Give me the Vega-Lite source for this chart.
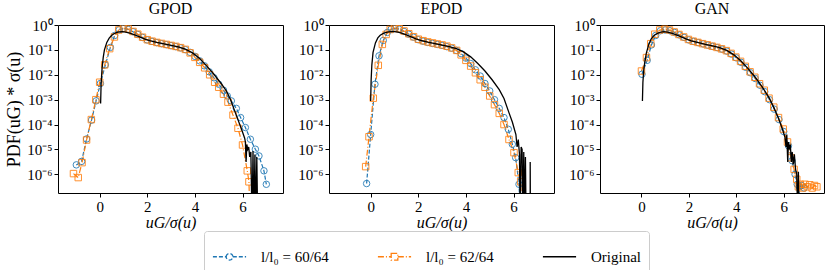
{
  "$schema": "https://vega.github.io/schema/vega-lite/v6.json",
  "background": "white",
  "padding": {"left": 5, "right": 5, "top": 0, "bottom": 0},
  "config": {
    "font": "Liberation Serif",
    "view": {"stroke": "black", "strokeWidth": 1},
    "axis": {
      "domain": false, "grid": false, "ticks": true, "tickColor": "black", "tickSize": 4, "tickWidth": 1,
      "labelFont": "Liberation Serif", "labelFontSize": 15, "labelColor": "black", "labelPadding": 2,
      "titleFont": "Liberation Serif", "titleFontSize": 16, "titleFontWeight": "normal", "titleColor": "black"
    },
    "title": {"font": "Liberation Serif", "fontSize": 16, "fontWeight": "normal", "color": "black", "offset": 1},
    "concat": {"spacing": 13}
  },
  "datasets": {
    "d": [
      {"panel":"GPOD","series":"l/l₀ = 60/64","u":-0.98,"log10_pdf":-5.62},
      {"panel":"GPOD","series":"l/l₀ = 60/64","u":-0.76,"log10_pdf":-5.48},
      {"panel":"GPOD","series":"l/l₀ = 60/64","u":-0.55,"log10_pdf":-4.58},
      {"panel":"GPOD","series":"l/l₀ = 60/64","u":-0.34,"log10_pdf":-3.82},
      {"panel":"GPOD","series":"l/l₀ = 60/64","u":-0.15,"log10_pdf":-3.05},
      {"panel":"GPOD","series":"l/l₀ = 60/64","u":0.03,"log10_pdf":-2.35},
      {"panel":"GPOD","series":"l/l₀ = 60/64","u":0.24,"log10_pdf":-1.6},
      {"panel":"GPOD","series":"l/l₀ = 60/64","u":0.45,"log10_pdf":-0.9},
      {"panel":"GPOD","series":"l/l₀ = 60/64","u":0.63,"log10_pdf":-0.42},
      {"panel":"GPOD","series":"l/l₀ = 60/64","u":0.82,"log10_pdf":-0.19},
      {"panel":"GPOD","series":"l/l₀ = 60/64","u":1.0,"log10_pdf":-0.14},
      {"panel":"GPOD","series":"l/l₀ = 60/64","u":1.2,"log10_pdf":-0.18},
      {"panel":"GPOD","series":"l/l₀ = 60/64","u":1.4,"log10_pdf":-0.27},
      {"panel":"GPOD","series":"l/l₀ = 60/64","u":1.6,"log10_pdf":-0.38},
      {"panel":"GPOD","series":"l/l₀ = 60/64","u":1.8,"log10_pdf":-0.5},
      {"panel":"GPOD","series":"l/l₀ = 60/64","u":2.0,"log10_pdf":-0.6},
      {"panel":"GPOD","series":"l/l₀ = 60/64","u":2.2,"log10_pdf":-0.66},
      {"panel":"GPOD","series":"l/l₀ = 60/64","u":2.4,"log10_pdf":-0.71},
      {"panel":"GPOD","series":"l/l₀ = 60/64","u":2.6,"log10_pdf":-0.75},
      {"panel":"GPOD","series":"l/l₀ = 60/64","u":2.8,"log10_pdf":-0.79},
      {"panel":"GPOD","series":"l/l₀ = 60/64","u":3.0,"log10_pdf":-0.83},
      {"panel":"GPOD","series":"l/l₀ = 60/64","u":3.2,"log10_pdf":-0.87},
      {"panel":"GPOD","series":"l/l₀ = 60/64","u":3.4,"log10_pdf":-0.92},
      {"panel":"GPOD","series":"l/l₀ = 60/64","u":3.6,"log10_pdf":-0.99},
      {"panel":"GPOD","series":"l/l₀ = 60/64","u":3.8,"log10_pdf":-1.1},
      {"panel":"GPOD","series":"l/l₀ = 60/64","u":4.0,"log10_pdf":-1.26},
      {"panel":"GPOD","series":"l/l₀ = 60/64","u":4.2,"log10_pdf":-1.44},
      {"panel":"GPOD","series":"l/l₀ = 60/64","u":4.4,"log10_pdf":-1.64},
      {"panel":"GPOD","series":"l/l₀ = 60/64","u":4.6,"log10_pdf":-1.88},
      {"panel":"GPOD","series":"l/l₀ = 60/64","u":4.8,"log10_pdf":-2.12},
      {"panel":"GPOD","series":"l/l₀ = 60/64","u":5.0,"log10_pdf":-2.38},
      {"panel":"GPOD","series":"l/l₀ = 60/64","u":5.2,"log10_pdf":-2.62},
      {"panel":"GPOD","series":"l/l₀ = 60/64","u":5.36,"log10_pdf":-2.85},
      {"panel":"GPOD","series":"l/l₀ = 60/64","u":5.53,"log10_pdf":-3.05},
      {"panel":"GPOD","series":"l/l₀ = 60/64","u":5.74,"log10_pdf":-3.35},
      {"panel":"GPOD","series":"l/l₀ = 60/64","u":5.92,"log10_pdf":-3.72},
      {"panel":"GPOD","series":"l/l₀ = 60/64","u":6.12,"log10_pdf":-4.12},
      {"panel":"GPOD","series":"l/l₀ = 60/64","u":6.33,"log10_pdf":-4.59},
      {"panel":"GPOD","series":"l/l₀ = 60/64","u":6.54,"log10_pdf":-4.99},
      {"panel":"GPOD","series":"l/l₀ = 60/64","u":6.69,"log10_pdf":-5.26},
      {"panel":"GPOD","series":"l/l₀ = 60/64","u":6.9,"log10_pdf":-5.86},
      {"panel":"GPOD","series":"l/l₀ = 60/64","u":7.0,"log10_pdf":-6.4},

      {"panel":"GPOD","series":"l/l₀ = 62/64","u":-1.1,"log10_pdf":-5.97},
      {"panel":"GPOD","series":"l/l₀ = 62/64","u":-0.9,"log10_pdf":-6.13},
      {"panel":"GPOD","series":"l/l₀ = 62/64","u":-0.74,"log10_pdf":-5.53},
      {"panel":"GPOD","series":"l/l₀ = 62/64","u":-0.55,"log10_pdf":-4.62},
      {"panel":"GPOD","series":"l/l₀ = 62/64","u":-0.35,"log10_pdf":-3.8},
      {"panel":"GPOD","series":"l/l₀ = 62/64","u":-0.16,"log10_pdf":-3.0},
      {"panel":"GPOD","series":"l/l₀ = 62/64","u":0.0,"log10_pdf":-2.3},
      {"panel":"GPOD","series":"l/l₀ = 62/64","u":0.21,"log10_pdf":-1.6},
      {"panel":"GPOD","series":"l/l₀ = 62/64","u":0.42,"log10_pdf":-0.95},
      {"panel":"GPOD","series":"l/l₀ = 62/64","u":0.62,"log10_pdf":-0.48},
      {"panel":"GPOD","series":"l/l₀ = 62/64","u":0.8,"log10_pdf":-0.2},
      {"panel":"GPOD","series":"l/l₀ = 62/64","u":1.0,"log10_pdf":-0.13},
      {"panel":"GPOD","series":"l/l₀ = 62/64","u":1.2,"log10_pdf":-0.16},
      {"panel":"GPOD","series":"l/l₀ = 62/64","u":1.4,"log10_pdf":-0.26},
      {"panel":"GPOD","series":"l/l₀ = 62/64","u":1.6,"log10_pdf":-0.37},
      {"panel":"GPOD","series":"l/l₀ = 62/64","u":1.8,"log10_pdf":-0.49},
      {"panel":"GPOD","series":"l/l₀ = 62/64","u":2.0,"log10_pdf":-0.59},
      {"panel":"GPOD","series":"l/l₀ = 62/64","u":2.2,"log10_pdf":-0.65},
      {"panel":"GPOD","series":"l/l₀ = 62/64","u":2.4,"log10_pdf":-0.7},
      {"panel":"GPOD","series":"l/l₀ = 62/64","u":2.6,"log10_pdf":-0.74},
      {"panel":"GPOD","series":"l/l₀ = 62/64","u":2.8,"log10_pdf":-0.78},
      {"panel":"GPOD","series":"l/l₀ = 62/64","u":3.0,"log10_pdf":-0.82},
      {"panel":"GPOD","series":"l/l₀ = 62/64","u":3.2,"log10_pdf":-0.86},
      {"panel":"GPOD","series":"l/l₀ = 62/64","u":3.4,"log10_pdf":-0.91},
      {"panel":"GPOD","series":"l/l₀ = 62/64","u":3.6,"log10_pdf":-0.98},
      {"panel":"GPOD","series":"l/l₀ = 62/64","u":3.8,"log10_pdf":-1.12},
      {"panel":"GPOD","series":"l/l₀ = 62/64","u":4.0,"log10_pdf":-1.3},
      {"panel":"GPOD","series":"l/l₀ = 62/64","u":4.2,"log10_pdf":-1.5},
      {"panel":"GPOD","series":"l/l₀ = 62/64","u":4.41,"log10_pdf":-1.72},
      {"panel":"GPOD","series":"l/l₀ = 62/64","u":4.62,"log10_pdf":-2.0},
      {"panel":"GPOD","series":"l/l₀ = 62/64","u":4.83,"log10_pdf":-2.3},
      {"panel":"GPOD","series":"l/l₀ = 62/64","u":5.0,"log10_pdf":-2.5},
      {"panel":"GPOD","series":"l/l₀ = 62/64","u":5.2,"log10_pdf":-2.78},
      {"panel":"GPOD","series":"l/l₀ = 62/64","u":5.39,"log10_pdf":-3.1},
      {"panel":"GPOD","series":"l/l₀ = 62/64","u":5.6,"log10_pdf":-3.62},
      {"panel":"GPOD","series":"l/l₀ = 62/64","u":5.81,"log10_pdf":-4.15},
      {"panel":"GPOD","series":"l/l₀ = 62/64","u":6.0,"log10_pdf":-4.82},
      {"panel":"GPOD","series":"l/l₀ = 62/64","u":6.2,"log10_pdf":-5.86},
      {"panel":"GPOD","series":"l/l₀ = 62/64","u":6.27,"log10_pdf":-6.3},
      {"panel":"GPOD","series":"l/l₀ = 62/64","u":6.32,"log10_pdf":-8},

      {"panel":"GPOD","series":"Original","u":0.04,"log10_pdf":-3.15},
      {"panel":"GPOD","series":"Original","u":0.06,"log10_pdf":-2.4},
      {"panel":"GPOD","series":"Original","u":0.1,"log10_pdf":-1.75},
      {"panel":"GPOD","series":"Original","u":0.15,"log10_pdf":-1.3},
      {"panel":"GPOD","series":"Original","u":0.2,"log10_pdf":-1.0},
      {"panel":"GPOD","series":"Original","u":0.3,"log10_pdf":-0.7},
      {"panel":"GPOD","series":"Original","u":0.4,"log10_pdf":-0.53},
      {"panel":"GPOD","series":"Original","u":0.5,"log10_pdf":-0.42},
      {"panel":"GPOD","series":"Original","u":0.6,"log10_pdf":-0.35},
      {"panel":"GPOD","series":"Original","u":0.7,"log10_pdf":-0.31},
      {"panel":"GPOD","series":"Original","u":0.8,"log10_pdf":-0.28},
      {"panel":"GPOD","series":"Original","u":0.95,"log10_pdf":-0.27},
      {"panel":"GPOD","series":"Original","u":1.1,"log10_pdf":-0.29},
      {"panel":"GPOD","series":"Original","u":1.3,"log10_pdf":-0.34},
      {"panel":"GPOD","series":"Original","u":1.5,"log10_pdf":-0.41},
      {"panel":"GPOD","series":"Original","u":1.7,"log10_pdf":-0.49},
      {"panel":"GPOD","series":"Original","u":1.9,"log10_pdf":-0.57},
      {"panel":"GPOD","series":"Original","u":2.1,"log10_pdf":-0.63},
      {"panel":"GPOD","series":"Original","u":2.4,"log10_pdf":-0.7},
      {"panel":"GPOD","series":"Original","u":2.7,"log10_pdf":-0.76},
      {"panel":"GPOD","series":"Original","u":3.0,"log10_pdf":-0.82},
      {"panel":"GPOD","series":"Original","u":3.3,"log10_pdf":-0.88},
      {"panel":"GPOD","series":"Original","u":3.6,"log10_pdf":-0.97},
      {"panel":"GPOD","series":"Original","u":3.9,"log10_pdf":-1.12},
      {"panel":"GPOD","series":"Original","u":4.2,"log10_pdf":-1.35},
      {"panel":"GPOD","series":"Original","u":4.5,"log10_pdf":-1.65},
      {"panel":"GPOD","series":"Original","u":4.8,"log10_pdf":-1.98},
      {"panel":"GPOD","series":"Original","u":5.1,"log10_pdf":-2.35},
      {"panel":"GPOD","series":"Original","u":5.32,"log10_pdf":-2.65},
      {"panel":"GPOD","series":"Original","u":5.5,"log10_pdf":-3.0},
      {"panel":"GPOD","series":"Original","u":5.67,"log10_pdf":-3.45},
      {"panel":"GPOD","series":"Original","u":5.88,"log10_pdf":-3.99},
      {"panel":"GPOD","series":"Original","u":6.0,"log10_pdf":-4.3},
      {"panel":"GPOD","series":"Original","u":6.09,"log10_pdf":-4.55},
      {"panel":"GPOD","series":"Original","u":6.12,"log10_pdf":-4.7},
      {"panel":"GPOD","series":"Original","u":6.15,"log10_pdf":-5.5},
      {"panel":"GPOD","series":"Original","u":6.18,"log10_pdf":-4.8},
      {"panel":"GPOD","series":"Original","u":6.22,"log10_pdf":-5.0},
      {"panel":"GPOD","series":"Original","u":6.26,"log10_pdf":-4.9},
      {"panel":"GPOD","series":"Original","u":6.3,"log10_pdf":-5.3},
      {"panel":"GPOD","series":"Original","u":6.35,"log10_pdf":-5.1},
      {"panel":"GPOD","series":"Original","u":6.4,"log10_pdf":-8},
      {"panel":"GPOD","series":"Original","u":6.44,"log10_pdf":-5.06},
      {"panel":"GPOD","series":"Original","u":6.48,"log10_pdf":-8},
      {"panel":"GPOD","series":"Original","u":6.52,"log10_pdf":-5.2},
      {"panel":"GPOD","series":"Original","u":6.56,"log10_pdf":-8},
      {"panel":"GPOD","series":"Original","u":6.6,"log10_pdf":-5.3},
      {"panel":"GPOD","series":"Original","u":6.64,"log10_pdf":-8},

      {"panel":"EPOD","series":"l/l₀ = 60/64","u":-0.17,"log10_pdf":-6.37},
      {"panel":"EPOD","series":"l/l₀ = 60/64","u":0.0,"log10_pdf":-4.4},
      {"panel":"EPOD","series":"l/l₀ = 60/64","u":0.18,"log10_pdf":-2.38},
      {"panel":"EPOD","series":"l/l₀ = 60/64","u":0.35,"log10_pdf":-1.24},
      {"panel":"EPOD","series":"l/l₀ = 60/64","u":0.53,"log10_pdf":-0.62},
      {"panel":"EPOD","series":"l/l₀ = 60/64","u":0.7,"log10_pdf":-0.3},
      {"panel":"EPOD","series":"l/l₀ = 60/64","u":0.86,"log10_pdf":-0.17},
      {"panel":"EPOD","series":"l/l₀ = 60/64","u":1.02,"log10_pdf":-0.14},
      {"panel":"EPOD","series":"l/l₀ = 60/64","u":1.2,"log10_pdf":-0.17},
      {"panel":"EPOD","series":"l/l₀ = 60/64","u":1.4,"log10_pdf":-0.26},
      {"panel":"EPOD","series":"l/l₀ = 60/64","u":1.6,"log10_pdf":-0.37},
      {"panel":"EPOD","series":"l/l₀ = 60/64","u":1.8,"log10_pdf":-0.49},
      {"panel":"EPOD","series":"l/l₀ = 60/64","u":2.0,"log10_pdf":-0.59},
      {"panel":"EPOD","series":"l/l₀ = 60/64","u":2.2,"log10_pdf":-0.65},
      {"panel":"EPOD","series":"l/l₀ = 60/64","u":2.4,"log10_pdf":-0.7},
      {"panel":"EPOD","series":"l/l₀ = 60/64","u":2.6,"log10_pdf":-0.74},
      {"panel":"EPOD","series":"l/l₀ = 60/64","u":2.8,"log10_pdf":-0.78},
      {"panel":"EPOD","series":"l/l₀ = 60/64","u":3.0,"log10_pdf":-0.82},
      {"panel":"EPOD","series":"l/l₀ = 60/64","u":3.2,"log10_pdf":-0.87},
      {"panel":"EPOD","series":"l/l₀ = 60/64","u":3.4,"log10_pdf":-0.93},
      {"panel":"EPOD","series":"l/l₀ = 60/64","u":3.6,"log10_pdf":-1.02},
      {"panel":"EPOD","series":"l/l₀ = 60/64","u":3.8,"log10_pdf":-1.15},
      {"panel":"EPOD","series":"l/l₀ = 60/64","u":4.0,"log10_pdf":-1.33},
      {"panel":"EPOD","series":"l/l₀ = 60/64","u":4.2,"log10_pdf":-1.55},
      {"panel":"EPOD","series":"l/l₀ = 60/64","u":4.4,"log10_pdf":-1.8},
      {"panel":"EPOD","series":"l/l₀ = 60/64","u":4.6,"log10_pdf":-2.05},
      {"panel":"EPOD","series":"l/l₀ = 60/64","u":4.8,"log10_pdf":-2.35},
      {"panel":"EPOD","series":"l/l₀ = 60/64","u":5.0,"log10_pdf":-2.65},
      {"panel":"EPOD","series":"l/l₀ = 60/64","u":5.2,"log10_pdf":-3.0},
      {"panel":"EPOD","series":"l/l₀ = 60/64","u":5.4,"log10_pdf":-3.35},
      {"panel":"EPOD","series":"l/l₀ = 60/64","u":5.6,"log10_pdf":-3.72},
      {"panel":"EPOD","series":"l/l₀ = 60/64","u":5.78,"log10_pdf":-4.19},
      {"panel":"EPOD","series":"l/l₀ = 60/64","u":5.95,"log10_pdf":-4.79},
      {"panel":"EPOD","series":"l/l₀ = 60/64","u":6.09,"log10_pdf":-5.33},
      {"panel":"EPOD","series":"l/l₀ = 60/64","u":6.23,"log10_pdf":-6.4},
      {"panel":"EPOD","series":"l/l₀ = 60/64","u":6.3,"log10_pdf":-8},

      {"panel":"EPOD","series":"l/l₀ = 62/64","u":-0.21,"log10_pdf":-5.69},
      {"panel":"EPOD","series":"l/l₀ = 62/64","u":-0.07,"log10_pdf":-4.49},
      {"panel":"EPOD","series":"l/l₀ = 62/64","u":0.11,"log10_pdf":-2.94},
      {"panel":"EPOD","series":"l/l₀ = 62/64","u":0.32,"log10_pdf":-1.62},
      {"panel":"EPOD","series":"l/l₀ = 62/64","u":0.49,"log10_pdf":-0.78},
      {"panel":"EPOD","series":"l/l₀ = 62/64","u":0.65,"log10_pdf":-0.38},
      {"panel":"EPOD","series":"l/l₀ = 62/64","u":0.82,"log10_pdf":-0.18},
      {"panel":"EPOD","series":"l/l₀ = 62/64","u":1.0,"log10_pdf":-0.13},
      {"panel":"EPOD","series":"l/l₀ = 62/64","u":1.2,"log10_pdf":-0.15},
      {"panel":"EPOD","series":"l/l₀ = 62/64","u":1.4,"log10_pdf":-0.24},
      {"panel":"EPOD","series":"l/l₀ = 62/64","u":1.6,"log10_pdf":-0.35},
      {"panel":"EPOD","series":"l/l₀ = 62/64","u":1.8,"log10_pdf":-0.47},
      {"panel":"EPOD","series":"l/l₀ = 62/64","u":2.0,"log10_pdf":-0.57},
      {"panel":"EPOD","series":"l/l₀ = 62/64","u":2.2,"log10_pdf":-0.63},
      {"panel":"EPOD","series":"l/l₀ = 62/64","u":2.4,"log10_pdf":-0.68},
      {"panel":"EPOD","series":"l/l₀ = 62/64","u":2.6,"log10_pdf":-0.72},
      {"panel":"EPOD","series":"l/l₀ = 62/64","u":2.8,"log10_pdf":-0.76},
      {"panel":"EPOD","series":"l/l₀ = 62/64","u":3.0,"log10_pdf":-0.8},
      {"panel":"EPOD","series":"l/l₀ = 62/64","u":3.2,"log10_pdf":-0.85},
      {"panel":"EPOD","series":"l/l₀ = 62/64","u":3.4,"log10_pdf":-0.92},
      {"panel":"EPOD","series":"l/l₀ = 62/64","u":3.61,"log10_pdf":-1.02},
      {"panel":"EPOD","series":"l/l₀ = 62/64","u":3.8,"log10_pdf":-1.2},
      {"panel":"EPOD","series":"l/l₀ = 62/64","u":4.0,"log10_pdf":-1.42},
      {"panel":"EPOD","series":"l/l₀ = 62/64","u":4.2,"log10_pdf":-1.65},
      {"panel":"EPOD","series":"l/l₀ = 62/64","u":4.4,"log10_pdf":-1.92},
      {"panel":"EPOD","series":"l/l₀ = 62/64","u":4.6,"log10_pdf":-2.2},
      {"panel":"EPOD","series":"l/l₀ = 62/64","u":4.8,"log10_pdf":-2.5},
      {"panel":"EPOD","series":"l/l₀ = 62/64","u":5.0,"log10_pdf":-2.85},
      {"panel":"EPOD","series":"l/l₀ = 62/64","u":5.2,"log10_pdf":-3.2},
      {"panel":"EPOD","series":"l/l₀ = 62/64","u":5.4,"log10_pdf":-3.55},
      {"panel":"EPOD","series":"l/l₀ = 62/64","u":5.6,"log10_pdf":-4.0},
      {"panel":"EPOD","series":"l/l₀ = 62/64","u":5.81,"log10_pdf":-4.6},
      {"panel":"EPOD","series":"l/l₀ = 62/64","u":6.02,"log10_pdf":-5.13},
      {"panel":"EPOD","series":"l/l₀ = 62/64","u":6.2,"log10_pdf":-5.93},
      {"panel":"EPOD","series":"l/l₀ = 62/64","u":6.3,"log10_pdf":-6.3},
      {"panel":"EPOD","series":"l/l₀ = 62/64","u":6.36,"log10_pdf":-8},

      {"panel":"EPOD","series":"Original","u":0.0,"log10_pdf":-3.05},
      {"panel":"EPOD","series":"Original","u":0.02,"log10_pdf":-2.2},
      {"panel":"EPOD","series":"Original","u":0.05,"log10_pdf":-1.6},
      {"panel":"EPOD","series":"Original","u":0.1,"log10_pdf":-1.1},
      {"panel":"EPOD","series":"Original","u":0.2,"log10_pdf":-0.72},
      {"panel":"EPOD","series":"Original","u":0.3,"log10_pdf":-0.52},
      {"panel":"EPOD","series":"Original","u":0.4,"log10_pdf":-0.41},
      {"panel":"EPOD","series":"Original","u":0.55,"log10_pdf":-0.33},
      {"panel":"EPOD","series":"Original","u":0.7,"log10_pdf":-0.29},
      {"panel":"EPOD","series":"Original","u":0.85,"log10_pdf":-0.27},
      {"panel":"EPOD","series":"Original","u":1.0,"log10_pdf":-0.27},
      {"panel":"EPOD","series":"Original","u":1.15,"log10_pdf":-0.29},
      {"panel":"EPOD","series":"Original","u":1.3,"log10_pdf":-0.33},
      {"panel":"EPOD","series":"Original","u":1.5,"log10_pdf":-0.4},
      {"panel":"EPOD","series":"Original","u":1.7,"log10_pdf":-0.48},
      {"panel":"EPOD","series":"Original","u":1.9,"log10_pdf":-0.56},
      {"panel":"EPOD","series":"Original","u":2.1,"log10_pdf":-0.62},
      {"panel":"EPOD","series":"Original","u":2.4,"log10_pdf":-0.69},
      {"panel":"EPOD","series":"Original","u":2.7,"log10_pdf":-0.75},
      {"panel":"EPOD","series":"Original","u":3.0,"log10_pdf":-0.81},
      {"panel":"EPOD","series":"Original","u":3.3,"log10_pdf":-0.87},
      {"panel":"EPOD","series":"Original","u":3.6,"log10_pdf":-0.95},
      {"panel":"EPOD","series":"Original","u":3.9,"log10_pdf":-1.08},
      {"panel":"EPOD","series":"Original","u":4.2,"log10_pdf":-1.28},
      {"panel":"EPOD","series":"Original","u":4.5,"log10_pdf":-1.55},
      {"panel":"EPOD","series":"Original","u":4.8,"log10_pdf":-1.85},
      {"panel":"EPOD","series":"Original","u":5.1,"log10_pdf":-2.2},
      {"panel":"EPOD","series":"Original","u":5.4,"log10_pdf":-2.6},
      {"panel":"EPOD","series":"Original","u":5.6,"log10_pdf":-2.95},
      {"panel":"EPOD","series":"Original","u":5.8,"log10_pdf":-3.5},
      {"panel":"EPOD","series":"Original","u":5.95,"log10_pdf":-3.9},
      {"panel":"EPOD","series":"Original","u":6.1,"log10_pdf":-4.4},
      {"panel":"EPOD","series":"Original","u":6.15,"log10_pdf":-4.9},
      {"panel":"EPOD","series":"Original","u":6.2,"log10_pdf":-4.6},
      {"panel":"EPOD","series":"Original","u":6.25,"log10_pdf":-5.2},
      {"panel":"EPOD","series":"Original","u":6.28,"log10_pdf":-8},
      {"panel":"EPOD","series":"Original","u":6.32,"log10_pdf":-4.9},
      {"panel":"EPOD","series":"Original","u":6.36,"log10_pdf":-5.0},
      {"panel":"EPOD","series":"Original","u":6.4,"log10_pdf":-8},
      {"panel":"EPOD","series":"Original","u":6.43,"log10_pdf":-5.1},
      {"panel":"EPOD","series":"Original","u":6.46,"log10_pdf":-8},
      {"panel":"EPOD","series":"Original","u":6.5,"log10_pdf":-5.3},
      {"panel":"EPOD","series":"Original","u":6.53,"log10_pdf":-8},
      {"panel":"EPOD","series":"Original","u":6.7,"log10_pdf":-8},
      {"panel":"EPOD","series":"Original","u":6.7,"log10_pdf":-5.5},
      {"panel":"EPOD","series":"Original","u":6.71,"log10_pdf":-8},

      {"panel":"GAN","series":"l/l₀ = 60/64","u":0.02,"log10_pdf":-1.98},
      {"panel":"GAN","series":"l/l₀ = 60/64","u":0.24,"log10_pdf":-1.42},
      {"panel":"GAN","series":"l/l₀ = 60/64","u":0.42,"log10_pdf":-0.8},
      {"panel":"GAN","series":"l/l₀ = 60/64","u":0.6,"log10_pdf":-0.42},
      {"panel":"GAN","series":"l/l₀ = 60/64","u":0.8,"log10_pdf":-0.23},
      {"panel":"GAN","series":"l/l₀ = 60/64","u":1.0,"log10_pdf":-0.2},
      {"panel":"GAN","series":"l/l₀ = 60/64","u":1.2,"log10_pdf":-0.23},
      {"panel":"GAN","series":"l/l₀ = 60/64","u":1.4,"log10_pdf":-0.3},
      {"panel":"GAN","series":"l/l₀ = 60/64","u":1.6,"log10_pdf":-0.4},
      {"panel":"GAN","series":"l/l₀ = 60/64","u":1.8,"log10_pdf":-0.5},
      {"panel":"GAN","series":"l/l₀ = 60/64","u":2.0,"log10_pdf":-0.6},
      {"panel":"GAN","series":"l/l₀ = 60/64","u":2.2,"log10_pdf":-0.66},
      {"panel":"GAN","series":"l/l₀ = 60/64","u":2.4,"log10_pdf":-0.71},
      {"panel":"GAN","series":"l/l₀ = 60/64","u":2.6,"log10_pdf":-0.76},
      {"panel":"GAN","series":"l/l₀ = 60/64","u":2.8,"log10_pdf":-0.81},
      {"panel":"GAN","series":"l/l₀ = 60/64","u":3.0,"log10_pdf":-0.86},
      {"panel":"GAN","series":"l/l₀ = 60/64","u":3.2,"log10_pdf":-0.91},
      {"panel":"GAN","series":"l/l₀ = 60/64","u":3.4,"log10_pdf":-0.97},
      {"panel":"GAN","series":"l/l₀ = 60/64","u":3.6,"log10_pdf":-1.05},
      {"panel":"GAN","series":"l/l₀ = 60/64","u":3.8,"log10_pdf":-1.17},
      {"panel":"GAN","series":"l/l₀ = 60/64","u":4.0,"log10_pdf":-1.32},
      {"panel":"GAN","series":"l/l₀ = 60/64","u":4.2,"log10_pdf":-1.5},
      {"panel":"GAN","series":"l/l₀ = 60/64","u":4.4,"log10_pdf":-1.7},
      {"panel":"GAN","series":"l/l₀ = 60/64","u":4.6,"log10_pdf":-1.92},
      {"panel":"GAN","series":"l/l₀ = 60/64","u":4.8,"log10_pdf":-2.15},
      {"panel":"GAN","series":"l/l₀ = 60/64","u":5.0,"log10_pdf":-2.42},
      {"panel":"GAN","series":"l/l₀ = 60/64","u":5.2,"log10_pdf":-2.68},
      {"panel":"GAN","series":"l/l₀ = 60/64","u":5.4,"log10_pdf":-3.0},
      {"panel":"GAN","series":"l/l₀ = 60/64","u":5.6,"log10_pdf":-3.38},
      {"panel":"GAN","series":"l/l₀ = 60/64","u":5.8,"log10_pdf":-3.8},
      {"panel":"GAN","series":"l/l₀ = 60/64","u":6.0,"log10_pdf":-4.28},
      {"panel":"GAN","series":"l/l₀ = 60/64","u":6.2,"log10_pdf":-4.85},
      {"panel":"GAN","series":"l/l₀ = 60/64","u":6.35,"log10_pdf":-5.45},
      {"panel":"GAN","series":"l/l₀ = 60/64","u":6.48,"log10_pdf":-6.0},
      {"panel":"GAN","series":"l/l₀ = 60/64","u":6.57,"log10_pdf":-6.4},
      {"panel":"GAN","series":"l/l₀ = 60/64","u":6.62,"log10_pdf":-8},
      {"panel":"GAN","series":"l/l₀ = 60/64","u":6.66,"log10_pdf":-6.5},
      {"panel":"GAN","series":"l/l₀ = 60/64","u":6.76,"log10_pdf":-6.45},
      {"panel":"GAN","series":"l/l₀ = 60/64","u":6.86,"log10_pdf":-6.55},

      {"panel":"GAN","series":"l/l₀ = 62/64","u":0.0,"log10_pdf":-1.85},
      {"panel":"GAN","series":"l/l₀ = 62/64","u":0.21,"log10_pdf":-1.31},
      {"panel":"GAN","series":"l/l₀ = 62/64","u":0.39,"log10_pdf":-0.75},
      {"panel":"GAN","series":"l/l₀ = 62/64","u":0.56,"log10_pdf":-0.37},
      {"panel":"GAN","series":"l/l₀ = 62/64","u":0.77,"log10_pdf":-0.2},
      {"panel":"GAN","series":"l/l₀ = 62/64","u":0.98,"log10_pdf":-0.17},
      {"panel":"GAN","series":"l/l₀ = 62/64","u":1.18,"log10_pdf":-0.2},
      {"panel":"GAN","series":"l/l₀ = 62/64","u":1.38,"log10_pdf":-0.28},
      {"panel":"GAN","series":"l/l₀ = 62/64","u":1.58,"log10_pdf":-0.38},
      {"panel":"GAN","series":"l/l₀ = 62/64","u":1.78,"log10_pdf":-0.48},
      {"panel":"GAN","series":"l/l₀ = 62/64","u":1.98,"log10_pdf":-0.58},
      {"panel":"GAN","series":"l/l₀ = 62/64","u":2.18,"log10_pdf":-0.65},
      {"panel":"GAN","series":"l/l₀ = 62/64","u":2.38,"log10_pdf":-0.7},
      {"panel":"GAN","series":"l/l₀ = 62/64","u":2.58,"log10_pdf":-0.75},
      {"panel":"GAN","series":"l/l₀ = 62/64","u":2.78,"log10_pdf":-0.8},
      {"panel":"GAN","series":"l/l₀ = 62/64","u":2.98,"log10_pdf":-0.85},
      {"panel":"GAN","series":"l/l₀ = 62/64","u":3.18,"log10_pdf":-0.9},
      {"panel":"GAN","series":"l/l₀ = 62/64","u":3.38,"log10_pdf":-0.96},
      {"panel":"GAN","series":"l/l₀ = 62/64","u":3.58,"log10_pdf":-1.03},
      {"panel":"GAN","series":"l/l₀ = 62/64","u":3.78,"log10_pdf":-1.14},
      {"panel":"GAN","series":"l/l₀ = 62/64","u":3.98,"log10_pdf":-1.29},
      {"panel":"GAN","series":"l/l₀ = 62/64","u":4.18,"log10_pdf":-1.46},
      {"panel":"GAN","series":"l/l₀ = 62/64","u":4.38,"log10_pdf":-1.66},
      {"panel":"GAN","series":"l/l₀ = 62/64","u":4.58,"log10_pdf":-1.88},
      {"panel":"GAN","series":"l/l₀ = 62/64","u":4.78,"log10_pdf":-2.1},
      {"panel":"GAN","series":"l/l₀ = 62/64","u":4.98,"log10_pdf":-2.36},
      {"panel":"GAN","series":"l/l₀ = 62/64","u":5.18,"log10_pdf":-2.62},
      {"panel":"GAN","series":"l/l₀ = 62/64","u":5.38,"log10_pdf":-2.94},
      {"panel":"GAN","series":"l/l₀ = 62/64","u":5.58,"log10_pdf":-3.3},
      {"panel":"GAN","series":"l/l₀ = 62/64","u":5.78,"log10_pdf":-3.72},
      {"panel":"GAN","series":"l/l₀ = 62/64","u":5.98,"log10_pdf":-4.18},
      {"panel":"GAN","series":"l/l₀ = 62/64","u":6.16,"log10_pdf":-4.7},
      {"panel":"GAN","series":"l/l₀ = 62/64","u":6.3,"log10_pdf":-5.33},
      {"panel":"GAN","series":"l/l₀ = 62/64","u":6.44,"log10_pdf":-5.8},
      {"panel":"GAN","series":"l/l₀ = 62/64","u":6.55,"log10_pdf":-6.2},
      {"panel":"GAN","series":"l/l₀ = 62/64","u":6.62,"log10_pdf":-6.5},
      {"panel":"GAN","series":"l/l₀ = 62/64","u":6.7,"log10_pdf":-6.4},
      {"panel":"GAN","series":"l/l₀ = 62/64","u":6.8,"log10_pdf":-6.55},
      {"panel":"GAN","series":"l/l₀ = 62/64","u":6.9,"log10_pdf":-6.4},
      {"panel":"GAN","series":"l/l₀ = 62/64","u":7.0,"log10_pdf":-6.5},
      {"panel":"GAN","series":"l/l₀ = 62/64","u":7.1,"log10_pdf":-6.42},
      {"panel":"GAN","series":"l/l₀ = 62/64","u":7.2,"log10_pdf":-6.55},
      {"panel":"GAN","series":"l/l₀ = 62/64","u":7.3,"log10_pdf":-6.45},
      {"panel":"GAN","series":"l/l₀ = 62/64","u":7.4,"log10_pdf":-6.5},

      {"panel":"GAN","series":"Original","u":0.04,"log10_pdf":-3.05},
      {"panel":"GAN","series":"Original","u":0.06,"log10_pdf":-2.3},
      {"panel":"GAN","series":"Original","u":0.1,"log10_pdf":-1.75},
      {"panel":"GAN","series":"Original","u":0.14,"log10_pdf":-1.5},
      {"panel":"GAN","series":"Original","u":0.2,"log10_pdf":-1.15},
      {"panel":"GAN","series":"Original","u":0.3,"log10_pdf":-0.8},
      {"panel":"GAN","series":"Original","u":0.4,"log10_pdf":-0.58},
      {"panel":"GAN","series":"Original","u":0.5,"log10_pdf":-0.45},
      {"panel":"GAN","series":"Original","u":0.6,"log10_pdf":-0.37},
      {"panel":"GAN","series":"Original","u":0.77,"log10_pdf":-0.3},
      {"panel":"GAN","series":"Original","u":0.95,"log10_pdf":-0.27},
      {"panel":"GAN","series":"Original","u":1.1,"log10_pdf":-0.29},
      {"panel":"GAN","series":"Original","u":1.3,"log10_pdf":-0.34},
      {"panel":"GAN","series":"Original","u":1.5,"log10_pdf":-0.41},
      {"panel":"GAN","series":"Original","u":1.7,"log10_pdf":-0.49},
      {"panel":"GAN","series":"Original","u":1.9,"log10_pdf":-0.57},
      {"panel":"GAN","series":"Original","u":2.1,"log10_pdf":-0.64},
      {"panel":"GAN","series":"Original","u":2.4,"log10_pdf":-0.71},
      {"panel":"GAN","series":"Original","u":2.7,"log10_pdf":-0.78},
      {"panel":"GAN","series":"Original","u":3.0,"log10_pdf":-0.84},
      {"panel":"GAN","series":"Original","u":3.3,"log10_pdf":-0.91},
      {"panel":"GAN","series":"Original","u":3.6,"log10_pdf":-1.02},
      {"panel":"GAN","series":"Original","u":3.9,"log10_pdf":-1.2},
      {"panel":"GAN","series":"Original","u":4.2,"log10_pdf":-1.45},
      {"panel":"GAN","series":"Original","u":4.5,"log10_pdf":-1.75},
      {"panel":"GAN","series":"Original","u":4.8,"log10_pdf":-2.1},
      {"panel":"GAN","series":"Original","u":5.1,"log10_pdf":-2.5},
      {"panel":"GAN","series":"Original","u":5.4,"log10_pdf":-2.95},
      {"panel":"GAN","series":"Original","u":5.6,"log10_pdf":-3.35},
      {"panel":"GAN","series":"Original","u":5.8,"log10_pdf":-3.8},
      {"panel":"GAN","series":"Original","u":5.95,"log10_pdf":-4.2},
      {"panel":"GAN","series":"Original","u":6.05,"log10_pdf":-4.5},
      {"panel":"GAN","series":"Original","u":6.1,"log10_pdf":-4.9},
      {"panel":"GAN","series":"Original","u":6.13,"log10_pdf":-4.4},
      {"panel":"GAN","series":"Original","u":6.17,"log10_pdf":-5.5},
      {"panel":"GAN","series":"Original","u":6.2,"log10_pdf":-4.7},
      {"panel":"GAN","series":"Original","u":6.25,"log10_pdf":-5.0},
      {"panel":"GAN","series":"Original","u":6.28,"log10_pdf":-4.8},
      {"panel":"GAN","series":"Original","u":6.32,"log10_pdf":-5.5},
      {"panel":"GAN","series":"Original","u":6.36,"log10_pdf":-5.1},
      {"panel":"GAN","series":"Original","u":6.4,"log10_pdf":-5.6},
      {"panel":"GAN","series":"Original","u":6.45,"log10_pdf":-5.2},
      {"panel":"GAN","series":"Original","u":6.5,"log10_pdf":-5.8},
      {"panel":"GAN","series":"Original","u":6.55,"log10_pdf":-6.0},
      {"panel":"GAN","series":"Original","u":6.6,"log10_pdf":-8},
      {"panel":"GAN","series":"Original","u":6.62,"log10_pdf":-5.9},
      {"panel":"GAN","series":"Original","u":6.64,"log10_pdf":-8}
    ]
  },
  "hconcat": [
    {
      "title": "GPOD",
      "width": 225, "height": 168,
      "data": {"name": "d"},
      "transform": [{"filter": "datum.panel === 'GPOD'"}],
      "encoding": {
        "x": {"field": "u", "type": "quantitative", "scale": {"domain": [-1.75, 7.7], "nice": false, "zero": false}, "axis": {"values": [0, 2, 4, 6], "title": "uG/σ(u)", "titleFontStyle": "italic", "titlePadding": 0}},
        "y": {"field": "log10_pdf", "type": "quantitative", "scale": {"domain": [-6.75, 0], "nice": false, "zero": false}, "axis": {"values": [0, -1, -2, -3, -4, -5, -6], "labelExpr": "['10⁰','10⁻¹','10⁻²','10⁻³','10⁻⁴','10⁻⁵','10⁻⁶'][-datum.value]", "title": "PDF(uG) * σ(u)", "titleFontSize": 18, "titlePadding": 3}}
      },
      "layer": [
        {"transform": [{"filter": "datum.series !== 'Original'"}], "mark": {"type": "line", "strokeWidth": 1.2, "clip": true},
         "encoding": {"color": {"field": "series", "type": "nominal", "scale": {"domain": ["l/l₀ = 60/64", "l/l₀ = 62/64", "Original"], "range": ["#1f77b4", "#ff7f0e", "black"]},
            "legend": {"orient": "none", "legendX": 146, "legendY": 206, "direction": "horizontal", "title": null, "labelFont": "Liberation Serif", "labelFontSize": 15, "labelColor": "black", "strokeColor": "#cccccc", "fillColor": "white", "padding": 8, "cornerRadius": 3, "columnPadding": 46, "symbolSize": 1100, "labelOffset": 14, "symbolStrokeWidth": 1.3, "symbolFillColor": "transparent",
              "encode": {"symbols": {"update": {
                "shape": {"signal": "datum.value === 'Original' ? 'M-1,0H1' : (datum.value === 'l/l₀ = 60/64' ? 'M-1,0H-0.2M0.2,0H1M-0.2,0A0.2,0.2,0,1,1,0.2,0A0.2,0.2,0,1,1,-0.2,0' : 'M-1,0H-0.2M0.2,0H1M-0.2,-0.2H0.2V0.2H-0.2Z')"},
                "strokeDash": {"signal": "datum.value === 'Original' ? [] : (datum.value === 'l/l₀ = 60/64' ? [4,2] : [6,2,1,2])"},
                "fill": {"value": "transparent"},
                "strokeWidth": {"value": 1.3}
              }}}}},
           "strokeDash": {"field": "series", "type": "nominal", "scale": {"domain": ["l/l₀ = 60/64", "l/l₀ = 62/64"], "range": [[4, 2], [6, 2, 1, 2]]}, "legend": null}}},
        {"transform": [{"filter": "datum.series !== 'Original'"}], "mark": {"type": "point", "filled": false, "size": 42, "strokeWidth": 1, "opacity": 0.85, "clip": true},
         "encoding": {"color": {"field": "series", "type": "nominal"}, "shape": {"field": "series", "type": "nominal", "scale": {"domain": ["l/l₀ = 60/64", "l/l₀ = 62/64"], "range": ["circle", "square"]}, "legend": null}}},
        {"transform": [{"filter": "datum.series === 'Original'"}], "mark": {"type": "line", "strokeWidth": 1.3, "clip": true},
         "encoding": {"color": {"field": "series", "type": "nominal"}}}
      ]
    },
    {
      "title": "EPOD",
      "width": 225, "height": 168,
      "data": {"name": "d"},
      "transform": [{"filter": "datum.panel === 'EPOD'"}],
      "encoding": {
        "x": {"field": "u", "type": "quantitative", "scale": {"domain": [-1.75, 7.7], "nice": false, "zero": false}, "axis": {"values": [0, 2, 4, 6], "title": "uG/σ(u)", "titleFontStyle": "italic", "titlePadding": 0}},
        "y": {"field": "log10_pdf", "type": "quantitative", "scale": {"domain": [-6.75, 0], "nice": false, "zero": false}, "axis": {"values": [0, -1, -2, -3, -4, -5, -6], "labelExpr": "['10⁰','10⁻¹','10⁻²','10⁻³','10⁻⁴','10⁻⁵','10⁻⁶'][-datum.value]", "title": null}}
      },
      "layer": [
        {"transform": [{"filter": "datum.series !== 'Original'"}], "mark": {"type": "line", "strokeWidth": 1.2, "clip": true},
         "encoding": {"color": {"field": "series", "type": "nominal"},
           "strokeDash": {"field": "series", "type": "nominal", "legend": null}}},
        {"transform": [{"filter": "datum.series !== 'Original'"}], "mark": {"type": "point", "filled": false, "size": 42, "strokeWidth": 1, "opacity": 0.85, "clip": true},
         "encoding": {"color": {"field": "series", "type": "nominal"}, "shape": {"field": "series", "type": "nominal", "legend": null}}},
        {"transform": [{"filter": "datum.series === 'Original'"}], "mark": {"type": "line", "strokeWidth": 1.3, "clip": true},
         "encoding": {"color": {"field": "series", "type": "nominal"}}}
      ]
    },
    {
      "title": "GAN",
      "width": 224, "height": 168,
      "data": {"name": "d"},
      "transform": [{"filter": "datum.panel === 'GAN'"}],
      "encoding": {
        "x": {"field": "u", "type": "quantitative", "scale": {"domain": [-1.75, 7.7], "nice": false, "zero": false}, "axis": {"values": [0, 2, 4, 6], "title": "uG/σ(u)", "titleFontStyle": "italic", "titlePadding": 0}},
        "y": {"field": "log10_pdf", "type": "quantitative", "scale": {"domain": [-6.75, 0], "nice": false, "zero": false}, "axis": {"values": [0, -1, -2, -3, -4, -5, -6], "labelExpr": "['10⁰','10⁻¹','10⁻²','10⁻³','10⁻⁴','10⁻⁵','10⁻⁶'][-datum.value]", "title": null}}
      },
      "layer": [
        {"transform": [{"filter": "datum.series !== 'Original'"}], "mark": {"type": "line", "strokeWidth": 1.2, "clip": true},
         "encoding": {"color": {"field": "series", "type": "nominal"},
           "strokeDash": {"field": "series", "type": "nominal", "legend": null}}},
        {"transform": [{"filter": "datum.series !== 'Original'"}], "mark": {"type": "point", "filled": false, "size": 42, "strokeWidth": 1, "opacity": 0.85, "clip": true},
         "encoding": {"color": {"field": "series", "type": "nominal"}, "shape": {"field": "series", "type": "nominal", "legend": null}}},
        {"transform": [{"filter": "datum.series === 'Original'"}], "mark": {"type": "line", "strokeWidth": 1.3, "clip": true},
         "encoding": {"color": {"field": "series", "type": "nominal"}}}
      ]
    }
  ],
  "resolve": {"scale": {"color": "shared", "strokeDash": "shared", "shape": "shared"}, "legend": {"color": "shared"}}
}
